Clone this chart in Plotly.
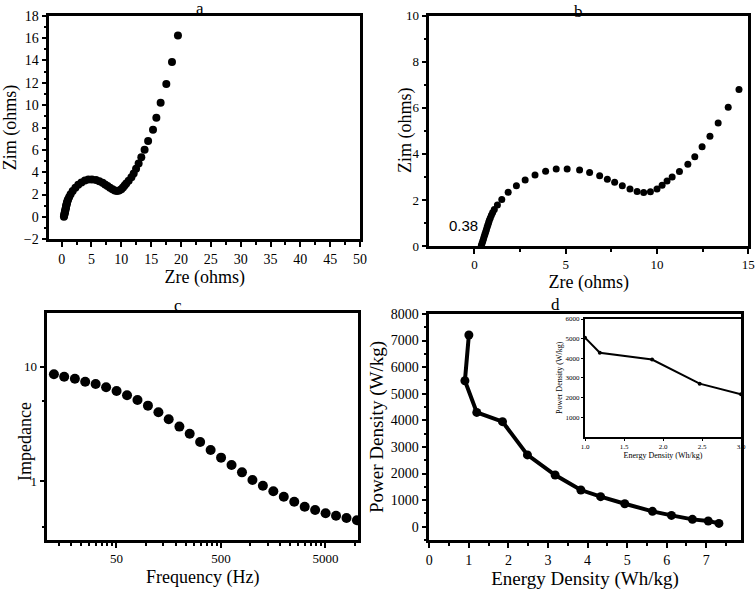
import plotly.graph_objects as go

# ---------------- data ----------------
# Panels a & b: Nyquist plot (same measurement; b is a zoom)
zre = [0.38, 0.42, 0.46, 0.50, 0.54, 0.58, 0.62, 0.66, 0.70, 0.74, 0.78, 0.82, 0.87, 0.93,
       1.00, 1.09, 1.26, 1.50, 1.85, 2.30, 2.78, 3.32, 3.90, 4.48, 5.08, 5.76, 6.31, 6.86,
       7.28, 7.68, 8.10, 8.52, 8.91, 9.27, 9.64, 10.00, 10.28, 10.55, 10.83, 11.23, 11.69,
       12.07, 12.47, 12.90, 13.35, 13.90, 14.49, 15.31, 15.87, 16.59, 17.54, 18.49, 19.49]
zim = [0.02, 0.12, 0.22, 0.32, 0.42, 0.52, 0.62, 0.72, 0.82, 0.92, 1.02, 1.12, 1.22, 1.34,
       1.46, 1.58, 1.78, 2.02, 2.33, 2.62, 2.87, 3.08, 3.25, 3.34, 3.34, 3.30, 3.19, 3.05,
       2.90, 2.77, 2.62, 2.47, 2.37, 2.32, 2.36, 2.48, 2.64, 2.82, 3.00, 3.23, 3.55, 3.88,
       4.31, 4.77, 5.34, 6.02, 6.80, 7.79, 8.88, 10.21, 11.90, 13.85, 16.22]

# Panel c: Bode impedance
freq = [12.6, 15.8, 20.0, 25.1, 31.6, 39.8, 50.1, 63.1, 79.4, 100, 126, 158, 200, 251, 316,
        398, 501, 631, 794, 1000, 1259, 1585, 1995, 2512, 3162, 3981, 5012, 6310, 7943, 10000]
impedance = [8.58, 8.17, 7.85, 7.39, 7.06, 6.60, 6.13, 5.62, 5.11, 4.56, 3.99, 3.47, 2.99,
             2.59, 2.19, 1.87, 1.60, 1.38, 1.19, 1.02, 0.910, 0.813, 0.729, 0.659, 0.596,
             0.558, 0.522, 0.497, 0.475, 0.453]

# Panel d: Ragone plot
energy = [1.00, 0.90, 1.20, 1.85, 2.48, 3.18, 3.83, 4.33, 4.94, 5.64, 6.12, 6.65, 7.05, 7.32]
power = [7210, 5490, 4300, 3950, 2700, 1944, 1379, 1129, 865, 577, 426, 276, 213, 125]

# Inset of d
inset_energy = [1.00, 1.19, 1.86, 2.47, 3.00]
inset_power = [5050, 4280, 3935, 2705, 2160]

# tick labels
a_xticks = [0, 5, 10, 15, 20, 25, 30, 35, 40, 45, 50]
a_yticks = [-2, 0, 2, 4, 6, 8, 10, 12, 14, 16, 18]
b_xticks = [0, 5, 10, 15]
b_yticks = [0, 2, 4, 6, 8, 10]
c_xticks = [50, 500, 5000]
c_yticks = [1, 10]
d_xticks = [0, 1, 2, 3, 4, 5, 6, 7]
d_yticks = [0, 1000, 2000, 3000, 4000, 5000, 6000, 7000, 8000]
in_xticks = [1.0, 1.5, 2.0, 2.5, 3.0]
in_yticks = [1000, 2000, 3000, 4000, 5000, 6000]

# ---------------- figure ----------------
W, H = 756, 590
SERIF = "Liberation Serif"


def dx(a, b):
    return [a / W, b / W]


def dy(top, bottom):
    return [1 - bottom / H, 1 - top / H]


def ax(**kw):
    base = dict(showline=True, linewidth=2.5, linecolor="black", mirror=True,
                ticks="outside", ticklen=5, tickwidth=2, tickcolor="black",
                showgrid=False, zeroline=False, automargin=False,
                tickfont=dict(family=SERIF, size=14, color="black"))
    base.update(kw)
    return base


fig = go.Figure()

fig.add_trace(go.Scatter(x=zre, y=zim, mode="markers", xaxis="x", yaxis="y",
                         marker=dict(color="black", size=8), showlegend=False))
fig.add_trace(go.Scatter(x=zre, y=zim, mode="markers", xaxis="x2", yaxis="y2",
                         marker=dict(color="black", size=7), showlegend=False))
fig.add_trace(go.Scatter(x=freq, y=impedance, mode="markers", xaxis="x3", yaxis="y3",
                         marker=dict(color="black", size=10), showlegend=False))
fig.add_trace(go.Scatter(x=energy, y=power, mode="lines+markers", xaxis="x4", yaxis="y4",
                         line=dict(color="black", width=4),
                         marker=dict(color="black", size=9), showlegend=False))
fig.add_trace(go.Scatter(x=inset_energy, y=inset_power, mode="lines+markers",
                         xaxis="x5", yaxis="y5",
                         line=dict(color="black", width=2),
                         marker=dict(color="black", size=4), showlegend=False))

title_font = dict(family=SERIF, size=18, color="black")
minor_lin = dict(ticks="outside", ticklen=3, tickwidth=1.5, tickcolor="black")

fig.update_layout(
    width=W, height=H, margin=dict(l=0, r=0, t=0, b=0),
    paper_bgcolor="white", plot_bgcolor="white",
    font=dict(family=SERIF, color="black"),
    # panel a
    xaxis=ax(domain=dx(49.3, 360), anchor="y", range=[-2.07, 50], tickvals=a_xticks,
             minor=dict(minor_lin, dtick=2.5),
             title=dict(text="Zre (ohms)", font=title_font, standoff=5)),
    yaxis=ax(domain=dy(15.7, 239.3), anchor="x", range=[-2, 18], tickvals=a_yticks,
             minor=dict(minor_lin, dtick=1),
             title=dict(text="Zim (ohms)", font=title_font, standoff=6)),
    # panel b
    xaxis2=ax(domain=dx(429.3, 748.3), anchor="y2", range=[-2.47, 15], tickvals=b_xticks,
              tickfont=dict(family=SERIF, size=13, color="black"),
              minor=dict(minor_lin, dtick=2.5),
              title=dict(text="Zre (ohms)", font=title_font, standoff=5)),
    yaxis2=ax(domain=dy(15.7, 246), anchor="x2", range=[0, 10], tickvals=b_yticks,
              tickfont=dict(family=SERIF, size=13, color="black"),
              minor=dict(minor_lin, dtick=1)),
    # panel c
    xaxis3=ax(domain=dx(47.3, 358.3), anchor="y3", type="log", range=[1.037, 4.013],
              tickvals=c_xticks, ticktext=[str(v) for v in c_xticks],
              tickfont=dict(family=SERIF, size=13, color="black"),
              minor=dict(minor_lin, tickmode="array",
                         tickvals=[14, 18.5, 23, 27.5, 32, 36.5, 41, 45.5,
                                   95, 140, 185, 230, 275, 320, 365, 410, 455,
                                   950, 1400, 1850, 2300, 2750, 3200, 3650, 4100, 4550,
                                   9500]),
              title=dict(text="Frequency (Hz)", font=title_font, standoff=6)),
    yaxis3=ax(domain=dy(312.7, 540), anchor="x3", type="log", range=[-0.516, 1.472],
              tickvals=c_yticks, ticktext=["1", "10"],
              tickfont=dict(family=SERIF, size=13, color="black"),
              minor=dict(minor_lin, tickmode="array", tickvals=[0.4, 5])),
    # panel d
    xaxis4=ax(domain=dx(429.3, 740.7), anchor="y4", range=[0, 7.87], tickvals=d_xticks,
              minor=dict(minor_lin, dtick=0.5),
              title=dict(text="Energy Density (Wh/kg)", font=dict(family=SERIF, size=19, color="black"),
                         standoff=14)),
    yaxis4=ax(domain=dy(314, 540), anchor="x4", range=[-500, 8000], tickvals=d_yticks,
              minor=dict(minor_lin, dtick=500),
              title=dict(text="Power Density (W/kg)", font=dict(family=SERIF, size=19, color="black"),
                         standoff=3)),
    # inset
    xaxis5=dict(domain=dx(585, 741), anchor="y5", range=[1.0, 3.0], tickvals=in_xticks,
                ticktext=["1.0", "1.5", "2.0", "2.5", "3.0"],
                showline=True, linewidth=2, linecolor="black", mirror=True,
                ticks="outside", ticklen=2, tickwidth=1, tickcolor="black",
                showgrid=False, zeroline=False, automargin=False,
                tickfont=dict(family=SERIF, size=7, color="black"),
                title=dict(text="Energy Density (Wh/kg)", font=dict(family=SERIF, size=8, color="black"),
                           standoff=2)),
    yaxis5=dict(domain=dy(319, 436.7), anchor="x5", range=[0, 6000], tickvals=in_yticks,
                showline=True, linewidth=2, linecolor="black", mirror=True,
                ticks="outside", ticklen=2, tickwidth=1, tickcolor="black",
                showgrid=False, zeroline=False, automargin=False,
                tickfont=dict(family=SERIF, size=7, color="black"),
                title=dict(text="Power Density (W/kg)", font=dict(family=SERIF, size=8, color="black"),
                           standoff=2)),
)

# inset background
fig.add_shape(type="rect", xref="paper", yref="paper",
              x0=585 / W, x1=741 / W, y0=1 - 436.7 / H, y1=1 - 319 / H,
              fillcolor="white", line=dict(width=0), layer="below")

# y-axis titles placed close to their tick labels (panels b and c)
fig.add_annotation(text="Zim (ohms)", x=406 / W, y=1 - 130 / H, xref="paper", yref="paper",
                   textangle=-90, showarrow=False, font=title_font,
                   xanchor="center", yanchor="middle")
fig.add_annotation(text="Impedance", x=25 / W, y=1 - 442 / H, xref="paper", yref="paper",
                   textangle=-90, showarrow=False, font=title_font,
                   xanchor="center", yanchor="middle")

# panel labels
for txt, x, y in [("a", 199.5, 9), ("b", 578, 11), ("c", 178, 305), ("d", 555, 304)]:
    fig.add_annotation(text=txt, x=x / W, y=1 - y / H, xref="paper", yref="paper",
                       showarrow=False, font=dict(family=SERIF, size=17, color="black"),
                       xanchor="center", yanchor="middle")

# intercept label in panel b
fig.add_annotation(text="0.38", x=463 / W, y=1 - 226 / H, xref="paper", yref="paper",
                   showarrow=False, font=dict(family="Liberation Sans", size=15, color="black"),
                   xanchor="center", yanchor="middle")

# last x tick label of panel d, just beyond the frame
fig.add_annotation(text="8", x=8, xref="x4", y=1 - 552 / H, yref="paper",
                   showarrow=False, font=dict(family=SERIF, size=14, color="black"),
                   xanchor="center", yanchor="middle")

fig.write_html("out.html", config={"displayModeBar": False},
               post_script="document.body.style.margin='0';document.body.style.overflow='hidden';")
